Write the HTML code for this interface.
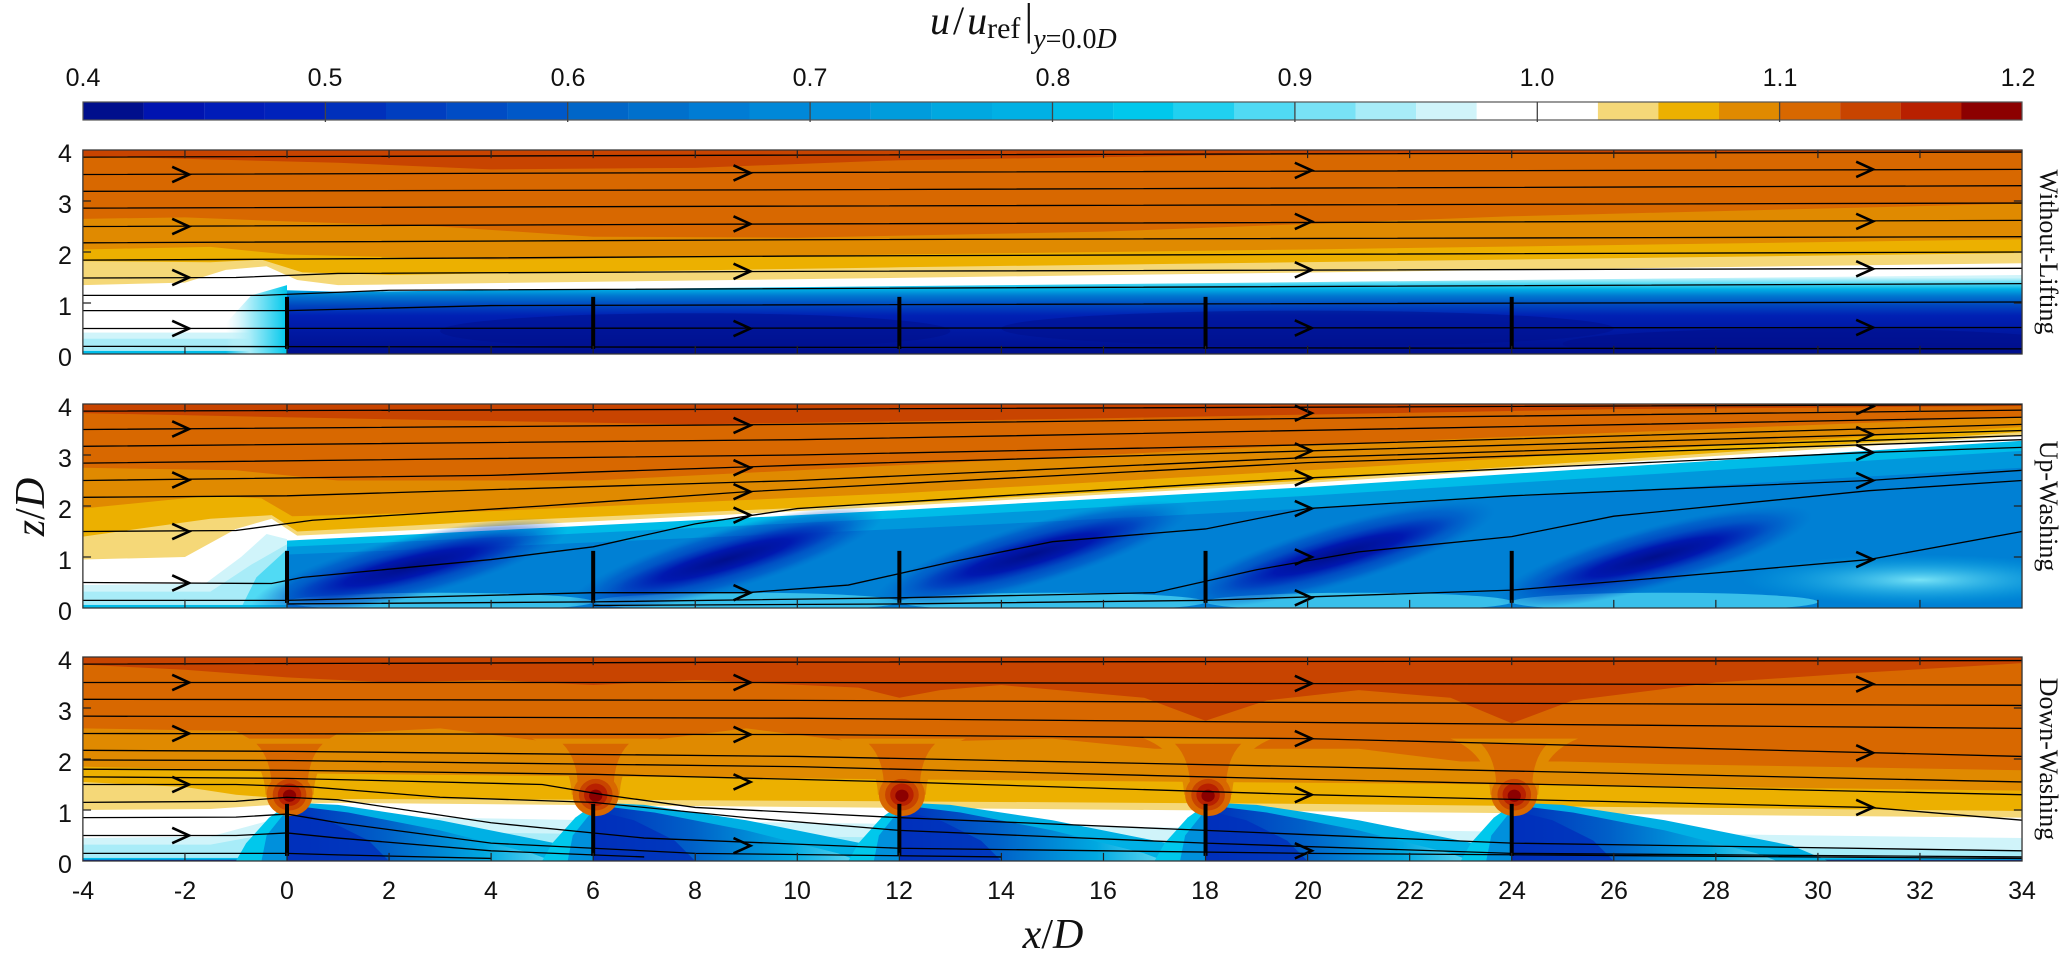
<!DOCTYPE html>
<html><head><meta charset="utf-8"><style>
html,body{margin:0;padding:0;background:#fff;}
svg{display:block;}
</style></head><body>
<svg width="2067" height="960" viewBox="0 0 2067 960" xmlns="http://www.w3.org/2000/svg">
<defs>
<clipPath id="cp" clipPathUnits="userSpaceOnUse"><rect x="-4" y="0" width="38" height="4"/></clipPath>
<linearGradient id="w1" gradientUnits="userSpaceOnUse" x1="0" y1="1.5" x2="0" y2="0">
<stop offset="0" stop-color="#d0f4fa"/><stop offset="0.08" stop-color="#50daf4"/><stop offset="0.15" stop-color="#00b0e4"/><stop offset="0.24" stop-color="#0078d0"/><stop offset="0.36" stop-color="#0048c0"/><stop offset="0.5" stop-color="#0020b4"/><stop offset="1" stop-color="#000f8c"/>
</linearGradient>
<linearGradient id="up1" gradientUnits="userSpaceOnUse" x1="-1.2" y1="0" x2="0" y2="0">
<stop offset="0" stop-color="#d0f4fa" stop-opacity="0"/><stop offset="0.4" stop-color="#a8ecf8"/><stop offset="1" stop-color="#00c8ec"/>
</linearGradient>
<radialGradient id="dk"><stop offset="0" stop-color="#000f8c"/><stop offset="0.5" stop-color="#0018b0"/><stop offset="0.8" stop-color="#0040c0" stop-opacity="0.7"/><stop offset="1" stop-color="#0060c8" stop-opacity="0"/></radialGradient>
<radialGradient id="lc"><stop offset="0" stop-color="#78e2f6"/><stop offset="1" stop-color="#00b0e4" stop-opacity="0"/></radialGradient>
<linearGradient id="wk3" gradientUnits="userSpaceOnUse" x1="0" y1="0" x2="5.5" y2="0">
<stop offset="0" stop-color="#0030bb"/><stop offset="0.35" stop-color="#0060c8"/><stop offset="0.7" stop-color="#00a8e0"/><stop offset="1" stop-color="#78e2f6"/>
</linearGradient>
<g id="ch"><path d="M-0.25,0.15 L0.08,0 L-0.25,-0.15" fill="none" stroke="#000" stroke-width="2.6" vector-effect="non-scaling-stroke"/></g>
<g id="wake2">
<ellipse cx="0" cy="0" rx="3.2" ry="0.6" fill="url(#dk)" opacity="0.6"/>
<ellipse cx="0" cy="0" rx="2.6" ry="0.38" fill="url(#dk)"/>
</g>
<g id="wake3">
<path d="M0,0 L0,1.15 L1,1.1 L3,0.8 L5.5,0.3 L6.2,0 Z" fill="#00b0e4"/>
<path d="M0,0 L0,1.1 L1.2,0.95 L3,0.6 L4.8,0.15 L5.2,0 Z" fill="url(#wk3)"/>
<path d="M0,0 L0,1.0 L0.8,0.8 L1.6,0.4 L2,0 Z" fill="#0030bb" opacity="0.8"/>
<path d="M-1,0 L-0.8,0.35 L-0.35,0.85 L0,1.1 L0,0 Z" fill="#00c8ec"/>
<path d="M-0.5,0 L-0.4,0.5 L0,1.0 L0,0 Z" fill="#0090dc"/>
</g>
<g id="blob">
<path d="M-1.2,2.4 Q-0.45,2.1 -0.42,1.3 L0.52,1.3 Q0.55,2.1 1.3,2.4 Z" fill="#e08a00"/>
<path d="M-0.6,2.3 Q-0.3,2.0 -0.3,1.4 L0.4,1.4 Q0.4,2.0 0.7,2.3 Z" fill="#d86800"/>
<ellipse cx="0.05" cy="1.3" rx="0.45" ry="0.42" fill="#d86800"/>
<ellipse cx="0.05" cy="1.3" rx="0.33" ry="0.31" fill="#c84400"/>
<ellipse cx="0.05" cy="1.3" rx="0.23" ry="0.22" fill="#b82000"/>
<ellipse cx="0.05" cy="1.28" rx="0.13" ry="0.12" fill="#8c0000"/>
</g>
<g id="turb"><line x1="0" y1="0.1" x2="0" y2="1.12" stroke="#000" stroke-width="4" vector-effect="non-scaling-stroke"/></g>
<g id="ticks" stroke="#222" stroke-width="1.2" vector-effect="non-scaling-stroke">
<path vector-effect="non-scaling-stroke" d="M-2,0 v0.16 M0,0 v0.16 M2,0 v0.16 M4,0 v0.16 M6,0 v0.16 M8,0 v0.16 M10,0 v0.16 M12,0 v0.16 M14,0 v0.16 M16,0 v0.16 M18,0 v0.16 M20,0 v0.16 M22,0 v0.16 M24,0 v0.16 M26,0 v0.16 M28,0 v0.16 M30,0 v0.16 M32,0 v0.16 M-2,4 v-0.16 M0,4 v-0.16 M2,4 v-0.16 M4,4 v-0.16 M6,4 v-0.16 M8,4 v-0.16 M10,4 v-0.16 M12,4 v-0.16 M14,4 v-0.16 M16,4 v-0.16 M18,4 v-0.16 M20,4 v-0.16 M22,4 v-0.16 M24,4 v-0.16 M26,4 v-0.16 M28,4 v-0.16 M30,4 v-0.16 M32,4 v-0.16 M-4,1 h0.16 M-4,2 h0.16 M-4,3 h0.16 M34,1 h-0.16 M34,2 h-0.16 M34,3 h-0.16"/>
<rect x="-4" y="0" width="38" height="4" fill="none" stroke="#333" stroke-width="1.3" vector-effect="non-scaling-stroke"/>
</g>
</defs>

<text x="930" y="34" font-family="Liberation Serif, serif" font-size="40" fill="#111"><tspan font-style="italic">u</tspan><tspan dx="3">/</tspan><tspan dx="3" font-style="italic">u</tspan><tspan font-size="30" dy="4">ref</tspan><tspan dy="-4" font-size="44" dx="4">|</tspan><tspan font-size="28" dy="14" font-style="italic">y</tspan><tspan font-size="28">=0.0</tspan><tspan font-size="28" font-style="italic">D</tspan></text>

<g>
<rect x="83.0" y="102" width="60.7" height="18" fill="#000f8c"/>
<rect x="143.6" y="102" width="60.7" height="18" fill="#0014b0"/>
<rect x="204.2" y="102" width="60.7" height="18" fill="#001cb8"/>
<rect x="264.8" y="102" width="60.7" height="18" fill="#0022bb"/>
<rect x="325.4" y="102" width="60.7" height="18" fill="#0030bb"/>
<rect x="386.0" y="102" width="60.7" height="18" fill="#003ec0"/>
<rect x="446.6" y="102" width="60.7" height="18" fill="#004cc4"/>
<rect x="507.1" y="102" width="60.7" height="18" fill="#0058c8"/>
<rect x="567.7" y="102" width="60.7" height="18" fill="#0066c8"/>
<rect x="628.3" y="102" width="60.7" height="18" fill="#0070cc"/>
<rect x="688.9" y="102" width="60.7" height="18" fill="#007cd4"/>
<rect x="749.5" y="102" width="60.7" height="18" fill="#0088d8"/>
<rect x="810.1" y="102" width="60.7" height="18" fill="#0090dc"/>
<rect x="870.7" y="102" width="60.7" height="18" fill="#009cdc"/>
<rect x="931.3" y="102" width="60.7" height="18" fill="#00a8e0"/>
<rect x="991.9" y="102" width="60.7" height="18" fill="#00b0e4"/>
<rect x="1052.5" y="102" width="60.7" height="18" fill="#00bce8"/>
<rect x="1113.1" y="102" width="60.7" height="18" fill="#00c8ec"/>
<rect x="1173.7" y="102" width="60.7" height="18" fill="#20d0f0"/>
<rect x="1234.3" y="102" width="60.7" height="18" fill="#50daf4"/>
<rect x="1294.9" y="102" width="60.7" height="18" fill="#78e2f6"/>
<rect x="1355.5" y="102" width="60.7" height="18" fill="#a8ecf8"/>
<rect x="1416.1" y="102" width="60.7" height="18" fill="#d0f4fa"/>
<rect x="1476.7" y="102" width="60.7" height="18" fill="#ffffff"/>
<rect x="1537.3" y="102" width="60.7" height="18" fill="#ffffff"/>
<rect x="1597.9" y="102" width="60.7" height="18" fill="#f5d878"/>
<rect x="1658.4" y="102" width="60.7" height="18" fill="#ecb000"/>
<rect x="1719.0" y="102" width="60.7" height="18" fill="#e08a00"/>
<rect x="1779.6" y="102" width="60.7" height="18" fill="#d86800"/>
<rect x="1840.2" y="102" width="60.7" height="18" fill="#c84400"/>
<rect x="1900.8" y="102" width="60.7" height="18" fill="#b82000"/>
<rect x="1961.4" y="102" width="60.6" height="18" fill="#8c0000"/>
<rect x="83" y="102" width="1939" height="18" fill="none" stroke="#555" stroke-width="1.2"/>
<path d="M325.4,102v20 M567.7,102v20 M810.1,102v20 M1052.5,102v20 M1294.9,102v20 M1537.3,102v20 M1779.6,102v20" stroke="#444" stroke-width="1.3"/>
<g font-family="Liberation Sans, sans-serif" font-size="25" fill="#111" text-anchor="middle">
<text x="83" y="86">0.4</text><text x="325" y="86">0.5</text><text x="568" y="86">0.6</text><text x="810" y="86">0.7</text><text x="1053" y="86">0.8</text><text x="1295" y="86">0.9</text><text x="1537" y="86">1.0</text><text x="1780" y="86">1.1</text><text x="2018" y="86">1.2</text>
</g>
</g>

<g transform="translate(287,354) scale(51.03,-51)">
<g clip-path="url(#cp)">
<rect x="-4" y="0" width="38" height="4" fill="#d86800"/>
<path d="M-4,4 L34,4 L34,3.97 L20,3.92 L12,3.8 L8,3.65 L4,3.62 L1,3.75 L-4,3.88 Z" fill="#c84400"/>
<path d="M-4,0 L-4,2.65 L-2,2.68 L0,2.6 L3,2.5 L6,2.3 L10,2.28 L16,2.4 L24,2.7 L34,2.95 L34,0 Z" fill="#e08a00"/>
<path d="M-4,0 L-4,2.05 L-1.5,2.1 L0,1.95 L4,1.85 L12,1.95 L20,2.05 L34,2.25 L34,0 Z" fill="#ecb000"/>
<path d="M-4,0 L-4,1.82 L-1.5,1.8 L-0.5,1.85 L0.3,1.6 L2,1.55 L12,1.7 L34,1.98 L34,0 Z" fill="#f5d878"/>
<path d="M-4,0 L-4,1.35 L-2,1.4 L-1.2,1.65 L-0.4,1.72 L0.2,1.45 L1,1.35 L34,1.78 L34,0 Z" fill="#ffffff"/>
<rect x="-4" y="0" width="4" height="0.42" fill="#d0f4fa"/>
<rect x="-4" y="0" width="4" height="0.3" fill="#a8ecf8"/>
<rect x="-4" y="0" width="4" height="0.06" fill="#00bce8"/>
<path d="M-1.3,0 L-1.2,0.6 L-0.7,1.15 L0,1.35 L0,0 Z" fill="url(#up1)"/>
<path d="M0,0 L0,1.25 L1,1.22 L34,1.55 L34,0 Z" fill="url(#w1)"/>
<ellipse cx="8" cy="0.45" rx="5" ry="0.35" fill="#000f8c" opacity="0.5"/>
<ellipse cx="20" cy="0.5" rx="6" ry="0.35" fill="#000f8c" opacity="0.5"/>
<ellipse cx="30" cy="0.2" rx="5" ry="0.3" fill="#000f8c" opacity="0.6"/>
<g fill="none" stroke="#000" stroke-width="1.3" vector-effect="non-scaling-stroke">
<path vector-effect="non-scaling-stroke" d="M-4,3.86 L10,3.9 L34,3.96"/>
<path vector-effect="non-scaling-stroke" d="M-4,3.52 L10,3.56 L34,3.62"/>
<path vector-effect="non-scaling-stroke" d="M-4,3.19 L10,3.22 L34,3.3"/>
<path vector-effect="non-scaling-stroke" d="M-4,2.86 L10,2.9 L34,2.96"/>
<path vector-effect="non-scaling-stroke" d="M-4,2.5 L10,2.55 L34,2.62"/>
<path vector-effect="non-scaling-stroke" d="M-4,2.18 L10,2.24 L34,2.3"/>
<path vector-effect="non-scaling-stroke" d="M-4,1.84 L0,1.86 L10,1.92 L34,2.0"/>
<path vector-effect="non-scaling-stroke" d="M-4,1.49 L-1,1.5 L1,1.58 L10,1.62 L34,1.68"/>
<path vector-effect="non-scaling-stroke" d="M-4,1.15 L-0.5,1.15 L2,1.25 L34,1.38"/>
<path vector-effect="non-scaling-stroke" d="M-4,0.85 L0,0.85 L4,0.95 L34,1.02"/>
<path vector-effect="non-scaling-stroke" d="M-4,0.5 L34,0.52"/>
<path vector-effect="non-scaling-stroke" d="M-4,0.15 L34,0.1"/>
</g>
<use href="#ch" x="-2" y="3.52"/><use href="#ch" x="-2" y="2.5"/><use href="#ch" x="-2" y="1.5"/><use href="#ch" x="-2" y="0.5"/>
<use href="#ch" x="9" y="3.55"/><use href="#ch" x="9" y="2.55"/><use href="#ch" x="9" y="1.62"/><use href="#ch" x="9" y="0.5"/>
<use href="#ch" x="20" y="3.6"/><use href="#ch" x="20" y="2.6"/><use href="#ch" x="20" y="1.65"/><use href="#ch" x="20" y="0.51"/>
<use href="#ch" x="31" y="3.62"/><use href="#ch" x="31" y="2.6"/><use href="#ch" x="31" y="1.67"/><use href="#ch" x="31" y="0.52"/>
<use href="#turb" x="0"/><use href="#turb" x="6"/><use href="#turb" x="12"/><use href="#turb" x="18"/><use href="#turb" x="24"/>
</g>
<use href="#ticks"/>
</g>

<g transform="translate(287,608) scale(51.03,-51)">
<g clip-path="url(#cp)">
<rect x="-4" y="0" width="38" height="4" fill="#d86800"/>
<path d="M-4,4 L34,4 L34,3.96 L26,3.9 L16,3.72 L8,3.6 L2,3.7 L-4,3.82 Z" fill="#c84400"/>
<path d="M-4,0 L-4,2.75 L-1,2.7 L1,2.5 L6,2.5 L12,2.8 L20,3.2 L34,3.75 L34,0 Z" fill="#e08a00"/>
<path d="M-4,0 L-4,1.95 L-1.5,2.2 L-0.5,2.15 L0.1,1.8 L4,1.9 L12,2.25 L20,2.7 L34,3.55 L34,0 Z" fill="#ecb000"/>
<path d="M-4,0 L-4,1.4 L-1.5,1.75 L-0.3,1.82 L0.2,1.5 L4,1.7 L12,2.05 L20,2.5 L34,3.45 L34,0 Z" fill="#f5d878"/>
<path d="M-4,0 L-4,0.95 L-2,1.0 L-1,1.55 L-0.3,1.75 L0.2,1.42 L4,1.6 L12,2.0 L20,2.45 L34,3.38 L34,0 Z" fill="#ffffff"/>
<path d="M-4,0 L-4,0.45 L-1.6,0.48 L-0.9,1.0 L-0.4,1.45 L0,1.35 L0,0 Z" fill="#d0f4fa"/>
<path d="M-4,0 L-4,0.32 L-1.5,0.32 L-0.7,0.85 L0,1.25 L0,0 Z" fill="#a8ecf8"/>
<path d="M-0.9,0 L-0.6,0.6 L0,1.15 L0,0 Z" fill="#50daf4"/>
<rect x="-4" y="0" width="4" height="0.06" fill="#00bce8"/>
<path d="M0,0 L0,1.32 L4,1.52 L12,1.92 L20,2.37 L34,3.28 L34,0 Z" fill="#00bce8"/>
<path d="M0,0 L0,1.2 L4,1.38 L12,1.76 L20,2.2 L34,3.08 L34,0 Z" fill="#0098dc"/>
<path d="M0,0 L0,1.05 L4,1.2 L12,1.55 L20,1.95 L34,2.75 L34,0 Z" fill="#0080d4"/>
<ellipse cx="32" cy="0.55" rx="3.5" ry="0.5" fill="url(#lc)"/>
<ellipse cx="3" cy="0.12" rx="3" ry="0.18" fill="#50daf4" opacity="0.7"/>
<ellipse cx="9" cy="0.12" rx="3" ry="0.18" fill="#50daf4" opacity="0.7"/>
<ellipse cx="15" cy="0.12" rx="3" ry="0.18" fill="#50daf4" opacity="0.7"/>
<ellipse cx="21" cy="0.12" rx="3" ry="0.18" fill="#50daf4" opacity="0.7"/>
<ellipse cx="27" cy="0.12" rx="3" ry="0.18" fill="#50daf4" opacity="0.7"/>
<g transform="translate(2.4,0.8) rotate(14)"><use href="#wake2"/></g>
<g transform="translate(8.6,0.95) rotate(16)"><use href="#wake2"/></g>
<g transform="translate(14.6,1.05) rotate(16)"><use href="#wake2"/></g>
<g transform="translate(20.6,1.05) rotate(16)"><use href="#wake2"/></g>
<g transform="translate(26.8,1.0) rotate(15)"><use href="#wake2"/></g>
<g fill="none" stroke="#000" stroke-width="1.3" vector-effect="non-scaling-stroke">
<path vector-effect="non-scaling-stroke" d="M-4,3.86 L10,3.9 L34,3.99"/>
<path vector-effect="non-scaling-stroke" d="M-4,3.5 L10,3.6 L34,3.88"/>
<path vector-effect="non-scaling-stroke" d="M-4,3.17 L10,3.3 L34,3.74"/>
<path vector-effect="non-scaling-stroke" d="M-4,2.84 L10,3.0 L20,3.2 L34,3.6"/>
<path vector-effect="non-scaling-stroke" d="M-4,2.5 L4,2.6 L10,2.8 L20,3.08 L34,3.48"/>
<path vector-effect="non-scaling-stroke" d="M-4,2.17 L0,2.2 L10,2.5 L20,2.95 L34,3.38"/>
<path vector-effect="non-scaling-stroke" d="M-4,1.5 L-1,1.52 L0.5,1.72 L5,2.0 L9,2.28 L20,2.85 L34,3.3"/>
<path vector-effect="non-scaling-stroke" d="M-4,0.5 L-0.3,0.48 L0.3,0.6 L4,0.95 L6,1.2 L8,1.65 L10,1.95 L14,2.2 L20,2.55 L31,3.05 L34,3.15"/>
<path vector-effect="non-scaling-stroke" d="M-4,0.15 L0,0.15 L6,0.3 L9,0.3 L11,0.45 L13,0.9 L15,1.3 L18,1.55 L20,1.95 L24,2.2 L31,2.5 L34,2.7"/>
<path vector-effect="non-scaling-stroke" d="M0,0.08 L6,0.12 L12,0.2 L17,0.3 L19,0.75 L21,1.1 L24,1.4 L26,1.8 L31,2.3 L34,2.5"/>
<path vector-effect="non-scaling-stroke" d="M6,0.05 L12,0.08 L18,0.15 L24,0.35 L27,0.6 L31,0.95 L34,1.5"/>
</g>
<use href="#ch" x="-2" y="3.51"/><use href="#ch" x="-2" y="2.51"/><use href="#ch" x="-2" y="1.5"/><use href="#ch" x="-2" y="0.49"/>
<use href="#ch" x="9" y="3.58"/><use href="#ch" x="9" y="2.75"/><use href="#ch" x="9" y="2.28"/><use href="#ch" x="9" y="1.82"/><use href="#ch" x="9" y="0.3"/>
<use href="#ch" x="20" y="3.82"/><use href="#ch" x="20" y="3.08"/><use href="#ch" x="20" y="2.55"/><use href="#ch" x="20" y="1.95"/><use href="#ch" x="20" y="1.0"/><use href="#ch" x="20" y="0.2"/>
<use href="#ch" x="31" y="3.95"/><use href="#ch" x="31" y="3.4"/><use href="#ch" x="31" y="3.05"/><use href="#ch" x="31" y="2.5"/><use href="#ch" x="31" y="0.95"/>
<use href="#turb" x="0"/><use href="#turb" x="6"/><use href="#turb" x="12"/><use href="#turb" x="18"/><use href="#turb" x="24"/>
</g>
<use href="#ticks"/>
</g>

<g transform="translate(287,861) scale(51.03,-51)">
<g clip-path="url(#cp)">
<rect x="-4" y="0" width="38" height="4" fill="#d86800"/>
<path d="M-4,4 L34,4 L34,3.88 L31,3.7 L28,3.5 L25.2,3.15 L24,2.7 L22.8,3.2 L21,3.35 L19.2,3.15 L18,2.75 L16.8,3.2 L14,3.45 L12.8,3.35 L12,3.2 L11.2,3.4 L8,3.55 L6,3.45 L4,3.55 L2,3.5 L0,3.6 L-2,3.75 L-4,3.85 Z" fill="#c84400"/>
<path d="M-4,0 L-4,2.6 L-1,2.55 L-0.4,2.2 L0.5,2.2 L1,2.5 L3,2.6 L5,2.35 L7,2.35 L9,2.6 L11,2.35 L13,2.35 L15,2.4 L17,2.2 L19,2.2 L21,2.2 L23,1.95 L25,1.95 L27,1.9 L34,1.78 L34,0 Z" fill="#e08a00"/>
<path d="M-4,0 L-4,1.85 L-1,1.78 L0,1.72 L6,1.66 L12,1.6 L18,1.55 L24,1.5 L34,1.38 L34,0 Z" fill="#ecb000"/>
<path d="M-4,0 L-4,1.55 L-2,1.45 L-1,1.3 L0,1.22 L6,1.2 L12,1.17 L20,1.12 L34,0.98 L34,0 Z" fill="#f5d878"/>
<path d="M-4,0 L-4,1.0 L-1.5,1.02 L0,1.12 L1,1.14 L34,0.85 L34,0 Z" fill="#ffffff"/>
<path d="M-4,0 L-4,0.45 L-1.5,0.48 L-0.5,0.75 L0,0.9 L6,0.8 L34,0.45 L34,0 Z" fill="#d0f4fa"/>
<path d="M-4,0 L-4,0.32 L-1.5,0.32 L0,0.6 L34,0.2 L34,0 Z" fill="#a8ecf8"/>
<rect x="-4" y="0" width="38" height="0.06" fill="#00bce8"/>
<rect x="-4" y="0" width="38" height="0.025" fill="#0020a0"/>
<use href="#wake3" x="0"/><use href="#wake3" x="6"/><use href="#wake3" x="12"/><use href="#wake3" x="18"/><use href="#wake3" x="24"/>
<use href="#blob" x="0"/><use href="#blob" x="6"/><use href="#blob" x="12"/><use href="#blob" x="18"/><use href="#blob" x="24"/>
<g fill="none" stroke="#000" stroke-width="1.3" vector-effect="non-scaling-stroke">
<path vector-effect="non-scaling-stroke" d="M-4,3.86 L10,3.9 L34,3.93"/>
<path vector-effect="non-scaling-stroke" d="M-4,3.5 L10,3.5 L34,3.45"/>
<path vector-effect="non-scaling-stroke" d="M-4,3.17 L10,3.15 L34,3.05"/>
<path vector-effect="non-scaling-stroke" d="M-4,2.84 L10,2.8 L34,2.6"/>
<path vector-effect="non-scaling-stroke" d="M-4,2.5 L10,2.48 L20,2.4 L34,2.05"/>
<path vector-effect="non-scaling-stroke" d="M-4,2.17 L0,2.15 L10,2.05 L20,1.85 L34,1.55"/>
<path vector-effect="non-scaling-stroke" d="M-4,1.98 L0,1.97 L10,1.85 L20,1.6 L34,1.3"/>
<path vector-effect="non-scaling-stroke" d="M-4,1.8 L0,1.78 L6,1.7 L12,1.55 L20,1.3 L31,1.05 L34,0.8"/>
<path vector-effect="non-scaling-stroke" d="M-4,1.65 L0,1.62 L5,1.5 L6.2,1.3 L8,1.05 L12,0.85 L18,0.6 L24,0.35 L34,0.2"/>
<path vector-effect="non-scaling-stroke" d="M-4,1.5 L-1,1.5 L0.5,1.45 L3,1.25 L6,1.15 L9,0.85 L12,0.6 L18,0.35 L24,0.15 L34,0.08"/>
<path vector-effect="non-scaling-stroke" d="M-4,1.15 L-1,1.17 L0,1.25 L1,1.2 L4,0.75 L7,0.45 L12,0.25 L20,0.15 L34,0.05"/>
<path vector-effect="non-scaling-stroke" d="M-4,0.85 L-1,0.86 L0,0.92 L1,0.75 L4,0.35 L8,0.15 L14,0.08"/>
<path vector-effect="non-scaling-stroke" d="M-4,0.5 L-1,0.5 L0,0.55 L1,0.45 L4,0.2 L7,0.08"/>
<path vector-effect="non-scaling-stroke" d="M-4,0.15 L0,0.15 L1,0.12 L4,0.05"/>
</g>
<use href="#ch" x="-2" y="3.5"/><use href="#ch" x="-2" y="2.5"/><use href="#ch" x="-2" y="1.5"/><use href="#ch" x="-2" y="0.5"/>
<use href="#ch" x="9" y="3.5"/><use href="#ch" x="9" y="2.48"/><use href="#ch" x="9" y="1.55"/><use href="#ch" x="9" y="0.3"/>
<use href="#ch" x="20" y="3.48"/><use href="#ch" x="20" y="2.4"/><use href="#ch" x="20" y="1.3"/><use href="#ch" x="20" y="0.2"/>
<use href="#ch" x="31" y="3.47"/><use href="#ch" x="31" y="2.12"/><use href="#ch" x="31" y="1.05"/>
<use href="#turb" x="0"/><use href="#turb" x="6"/><use href="#turb" x="12"/><use href="#turb" x="18"/><use href="#turb" x="24"/>
</g>
<use href="#ticks"/>
</g>

<g font-family="Liberation Sans, sans-serif" font-size="25" fill="#111" text-anchor="middle">
<text x="65" y="162">4</text><text x="65" y="213">3</text><text x="65" y="264">2</text><text x="65" y="315">1</text><text x="65" y="366">0</text>
<text x="65" y="416">4</text><text x="65" y="467">3</text><text x="65" y="518">2</text><text x="65" y="569">1</text><text x="65" y="620">0</text>
<text x="65" y="669">4</text><text x="65" y="720">3</text><text x="65" y="771">2</text><text x="65" y="822">1</text><text x="65" y="873">0</text>
</g>
<g font-family="Liberation Sans, sans-serif" font-size="25" fill="#111" text-anchor="middle">
<text x="83" y="899">-4</text><text x="185" y="899">-2</text><text x="287" y="899">0</text><text x="389" y="899">2</text><text x="491" y="899">4</text><text x="593" y="899">6</text><text x="695" y="899">8</text><text x="797" y="899">10</text><text x="899" y="899">12</text><text x="1001" y="899">14</text><text x="1103" y="899">16</text><text x="1205" y="899">18</text><text x="1308" y="899">20</text><text x="1410" y="899">22</text><text x="1512" y="899">24</text><text x="1614" y="899">26</text><text x="1716" y="899">28</text><text x="1818" y="899">30</text><text x="1920" y="899">32</text><text x="2022" y="899">34</text>
</g>
<text x="1053" y="948" text-anchor="middle" font-family="Liberation Serif, serif" font-size="42" fill="#111"><tspan font-style="italic">x</tspan>/<tspan font-style="italic">D</tspan></text>
<text transform="translate(44,507) rotate(-90)" text-anchor="middle" font-family="Liberation Serif, serif" font-size="42" fill="#111"><tspan font-style="italic">z</tspan>/<tspan font-style="italic">D</tspan></text>
<g font-family="Liberation Serif, serif" font-size="26" fill="#111" text-anchor="middle">
<text transform="translate(2040,252) rotate(90)">Without-Lifting</text>
<text transform="translate(2040,506) rotate(90)">Up-Washing</text>
<text transform="translate(2040,759) rotate(90)">Down-Washing</text>
</g>
</svg>
</body></html>
